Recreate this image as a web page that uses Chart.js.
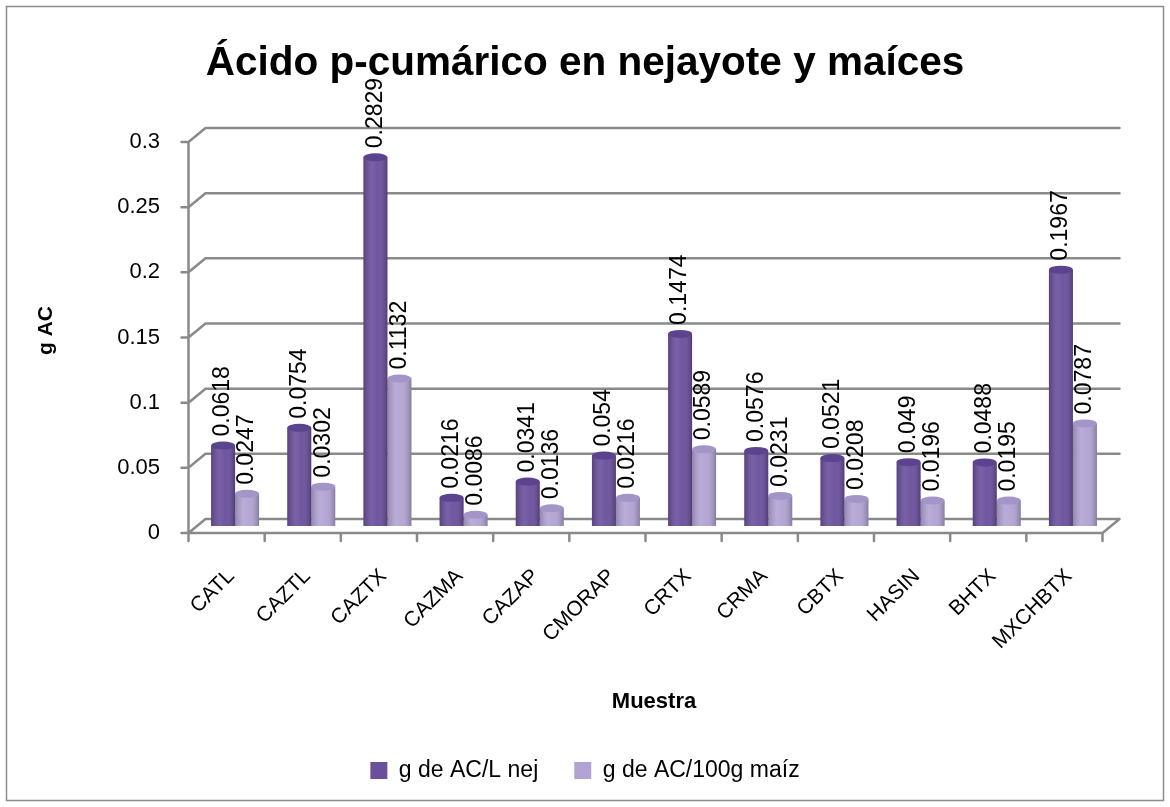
<!DOCTYPE html>
<html>
<head>
<meta charset="utf-8">
<script src="https://cdn.jsdelivr.net/npm/chart.js@4.4.1/dist/chart.umd.min.js"></script>
<style>
  html, body { margin: 0; padding: 0; background: #fff; }
  #wrap { width: 1170px; height: 807px; position: relative; }
</style>
</head>
<body>
<div id="wrap"><canvas id="acChart" width="1170" height="807"></canvas></div>
<script>
// datos
const muestras = ['CATL', 'CAZTL', 'CAZTX', 'CAZMA', 'CAZAP', 'CMORAP', 'CRTX', 'CRMA', 'CBTX', 'HASIN', 'BHTX', 'MXCHBTX'];
const gLNej = [0.0618, 0.0754, 0.2829, 0.0216, 0.0341, 0.054, 0.1474, 0.0576, 0.0521, 0.049, 0.0488, 0.1967];
const g100Maiz = [0.0247, 0.0302, 0.1132, 0.0086, 0.0136, 0.0216, 0.0589, 0.0231, 0.0208, 0.0196, 0.0195, 0.0787];
const serieNombres = ['g de AC/L nej', 'g de AC/100g maíz'];
const yTicks = [0, 0.05, 0.1, 0.15, 0.2, 0.25, 0.3];

const FONT = "'Liberation Sans', Arial, sans-serif";
const GRID = '#8a8a8a';
const DX = 8.5, DY = 7; // mitad de la profundidad 3D

// marco 3D: paredes, piso y eje frontal
const marco3D = {
  id: 'marco3D',
  beforeDraw(chart) {
    const c = chart.ctx;
    c.save();
    c.strokeStyle = '#8c8c8c';
    c.lineWidth = 1.5;
    c.strokeRect(6.5, 6.5, 1157, 794);
    c.restore();
  },
  beforeDatasetsDraw(chart) {
    const c = chart.ctx, a = chart.chartArea;
    const y = chart.scales.y;
    const y0 = y.getPixelForValue(0), yMax = y.getPixelForValue(0.3);
    c.save();
    c.strokeStyle = GRID;
    c.lineWidth = 2.5;
    c.lineCap = 'round';
    c.beginPath();
    yTicks.forEach(v => {
      const p = y.getPixelForValue(v);
      // línea de la pared del fondo
      c.moveTo(a.left + DX, p - DY);
      c.lineTo(a.right + DX, p - DY);
      // diagonal en la pared izquierda
      c.moveTo(a.left - DX, p + DY);
      c.lineTo(a.left + DX, p - DY);
      // marca del eje frontal
      c.moveTo(a.left - DX - 7, p + DY);
      c.lineTo(a.left - DX, p + DY);
    });
    // eje vertical frontal
    c.moveTo(a.left - DX, y0 + DY);
    c.lineTo(a.left - DX, yMax + DY);
    // piso frontal
    c.moveTo(a.left - DX, y0 + DY);
    c.lineTo(a.right - DX, y0 + DY);
    c.lineTo(a.right + DX, y0 - DY);
    // marcas de categoría
    const w = (a.right - a.left) / muestras.length;
    for (let i = 0; i <= muestras.length; i++) {
      const bx = a.left + i * w - DX;
      c.moveTo(bx, y0 + DY);
      c.lineTo(bx, y0 + DY + 8);
    }
    c.stroke();
    c.restore();
  },
  afterDatasetsDraw(chart) {
    const c = chart.ctx;
    chart.data.datasets.forEach((ds, di) => {
      const meta = chart.getDatasetMeta(di);
      meta.data.forEach((bar, i) => {
        const hw = bar.width / 2;
        // sombreado de cilindro
        const g = c.createLinearGradient(bar.x - hw, 0, bar.x + hw, 0);
        g.addColorStop(0, 'rgba(0,0,0,0.18)');
        g.addColorStop(0.35, 'rgba(255,255,255,0.10)');
        g.addColorStop(0.6, 'rgba(255,255,255,0.04)');
        g.addColorStop(1, 'rgba(0,0,0,0.25)');
        c.save();
        c.fillStyle = g;
        c.fillRect(bar.x - hw, bar.y, bar.width, bar.base - bar.y);
        // tapa superior
        c.beginPath();
        c.ellipse(bar.x, bar.y, hw, 4, 0, 0, Math.PI * 2);
        c.fillStyle = ds.capColor;
        c.fill();
        c.restore();
        // etiqueta de valor vertical
        c.save();
        c.translate(bar.x, bar.y - 9);
        c.rotate(-Math.PI / 2);
        c.font = '23px ' + FONT;
        c.fillStyle = '#000';
        c.textAlign = 'left';
        c.textBaseline = 'middle';
        c.fillText(String(ds.data[i]), 0, 0);
        c.restore();
      });
    });
  }
};

const ctx = document.getElementById('acChart').getContext('2d');
const acChart = new Chart(ctx, {
  type: 'bar',
  data: {
    labels: muestras,
    datasets: [{
      label: serieNombres[0],
      data: gLNej,
      backgroundColor: '#6a4f9c',
      capColor: '#5c4390',
      borderWidth: 0,
      categoryPercentage: 0.63,
      barPercentage: 1.0
    }, {
      label: serieNombres[1],
      data: g100Maiz,
      backgroundColor: '#b1a3d3',
      capColor: '#a395c8',
      borderWidth: 0,
      categoryPercentage: 0.63,
      barPercentage: 1.0
    }]
  },
  options: {
    responsive: false,
    animation: false,
    layout: { padding: { top: 0, left: 0, right: 0, bottom: 15 } },
    plugins: {
      tooltip: { enabled: false },
      title: {
        display: true,
        text: 'Ácido p-cumárico en nejayote y maíces',
        color: '#000',
        font: { family: FONT, size: 40.5, weight: 'bold' },
        padding: { top: 40, bottom: 46.4 }
      },
      legend: {
        position: 'bottom',
        labels: {
          color: '#000',
          font: { family: FONT, size: 23 },
          boxWidth: 17,
          boxHeight: 17,
          padding: 36
        }
      }
    },
    scales: {
      x: {
        grid: { display: false },
        border: { display: false },
        afterFit: s => { s.height = 197; },
        ticks: {
          color: '#000',
          font: { family: FONT, size: 21 },
          minRotation: 45,
          maxRotation: 45,
          autoSkip: false,
          labelOffset: -4,
          padding: 30
        },
        title: {
          display: true,
          text: 'Muestra',
          color: '#000',
          font: { family: FONT, size: 22, weight: 'bold' },
          padding: { top: 0, bottom: 8 }
        }
      },
      y: {
        min: 0,
        max: 0.3,
        grid: { display: false },
        border: { display: false },
        afterFit: s => { s.width = 197; },
        ticks: {
          stepSize: 0.05,
          color: '#000',
          font: { family: FONT, size: 22 },
          padding: 29,
          labelOffset: 7,
          callback: v => String(+v.toFixed(2))
        },
        title: {
          display: true,
          text: 'g AC',
          color: '#000',
          font: { family: FONT, size: 21, weight: 'bold' },
          padding: { top: 34, bottom: 0 }
        }
      },
      derecha: {
        position: 'right',
        display: true,
        grid: { display: false },
        border: { display: false },
        ticks: { display: false },
        afterFit: s => { s.width = 59; }
      }
    }
  },
  plugins: [marco3D]
});
</script>
</body>
</html>
